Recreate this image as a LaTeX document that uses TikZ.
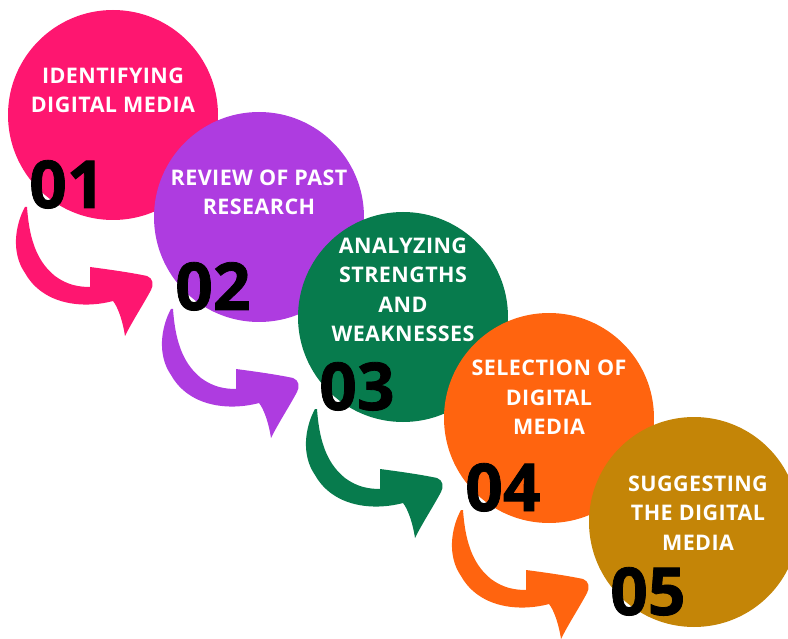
\documentclass[tikz,border=0pt]{standalone}
\usepackage{fontspec}
\usetikzlibrary{calc}
\setmainfont{Open Sans}
\newfontfamily\labelfont{Open Sans}[LetterSpace=2]
\newfontfamily\numfont{Open Sans}[BoldFeatures={FakeBold=1.2}]

\definecolor{stepA}{HTML}{FE1670}
\definecolor{stepB}{HTML}{AE3CE0}
\definecolor{stepC}{HTML}{077B4D}
\definecolor{stepD}{HTML}{FF640F}
\definecolor{stepE}{HTML}{C48507}

\tikzset{
  disc/.style={circle, fill=#1, minimum size=210pt, inner sep=0pt},
  % anchor=base sits on the baseline of the last line
  steptext/.style={text=white, font=\labelfont\bfseries\fontsize{21.5}{29.5}\selectfont,
    align=center, anchor=base, inner sep=0pt},
  stepnum/.style={text=black, font=\numfont\bfseries\fontsize{66}{66}\selectfont,
    anchor=base west, inner sep=0pt},
  % curved brush arrow, drawn relative to the centre of its disc
  pics/bendarrow/.style={code={
    \fill[#1] (-86,92) .. controls (-84,120) and (-78,145) .. (-58,161)
      .. controls (-46,170) and (-34,172) .. (-23,172)
      -- (-23,152)
      .. controls (0,155) and (20,158) .. (34,161)
      .. controls (40,163) and (41,170) .. (38,175)
      .. controls (30,190) and (20,205) .. (12,221)
      .. controls (10,207) and (5,192) .. (0,186)
      .. controls (-30,194) and (-70,190) .. (-88,158)
      .. controls (-102,138) and (-98,110) .. (-88,92)
      -- cycle;
  }}
}

\begin{document}
\begin{tikzpicture}[x=1pt, y=-1pt]
  \useasboundingbox (0,0) rectangle (788,639);
  \clip (0,0) rectangle (788,639);

  % disc centres
  \coordinate (c1) at (113,115);
  \coordinate (c2) at (259,217);
  \coordinate (c3) at (403,317);
  \coordinate (c4) at (549,418);
  \coordinate (c5) at (694,522);

  % arrows leading from one step to the next
  \pic at (c1) {bendarrow=stepA};
  \pic at (c2) {bendarrow=stepB};
  \pic at (c3) {bendarrow=stepC};
  \pic at (c4) {bendarrow=stepD};

  % step 1
  \node[disc=stepA] (d1) at (c1) {};
  \node[steptext] (t1) at ($(c1)+(0,-2)$) {IDENTIFYING\\DIGITAL MEDIA};
  \node[stepnum] (n1) at ($(c1)+(-84,93)$) {01};

  % step 2
  \node[disc=stepB] (d2) at (c2) {};
  \node[steptext] (t2) at ($(c2)+(0,-2)$) {REVIEW OF PAST\\RESEARCH};
  \node[stepnum] (n2) at ($(c2)+(-84,93)$) {02};

  % step 3
  \node[disc=stepC] (d3) at (c3) {};
  \node[steptext] (t3) at ($(c3)+(0,25)$) {ANALYZING\\STRENGTHS\\AND\\WEAKNESSES};
  \node[stepnum] (n3) at ($(c3)+(-84,93)$) {03};

  % step 4
  \node[disc=stepD] (d4) at (c4) {};
  \node[steptext] (t4) at ($(c4)+(0,17)$) {SELECTION OF\\DIGITAL\\MEDIA};
  \node[stepnum] (n4) at ($(c4)+(-84,93)$) {04};

  % step 5
  \node[disc=stepE] (d5) at (c5) {};
  \node[steptext] (t5) at ($(c5)+(4,28)$) {SUGGESTING\\THE DIGITAL\\MEDIA};
  \node[stepnum] (n5) at ($(c5)+(-84,93)$) {05};
\end{tikzpicture}
\end{document}
